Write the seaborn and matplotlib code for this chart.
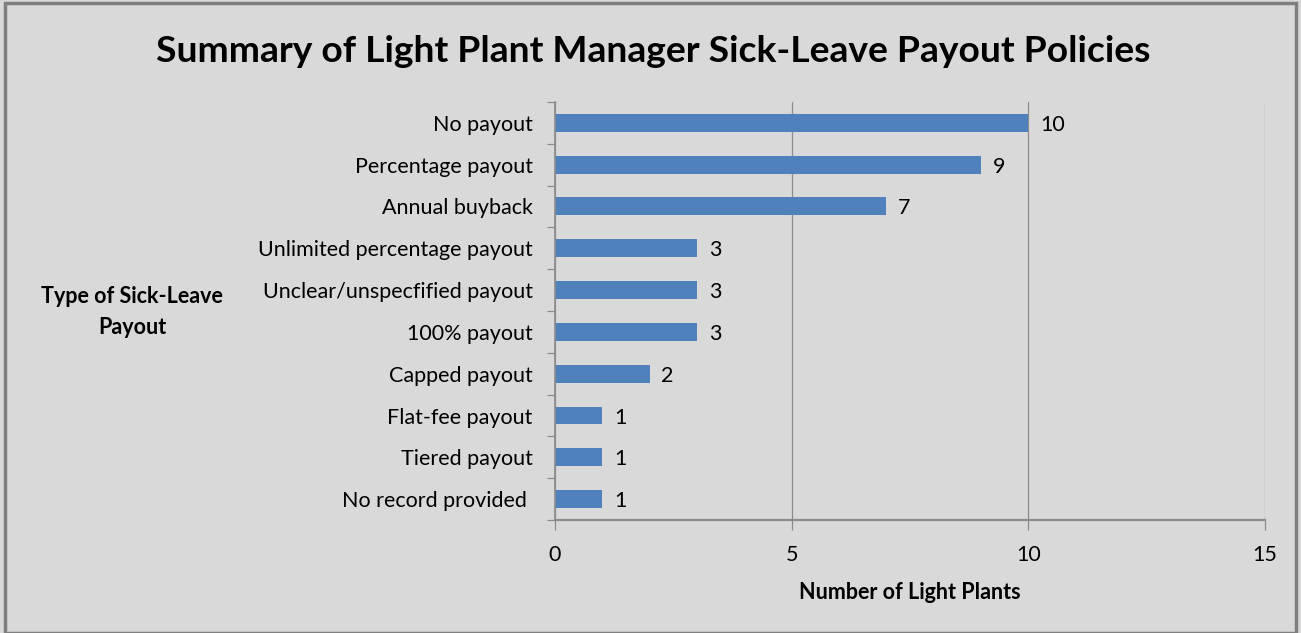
import matplotlib
matplotlib.use("Agg")
import matplotlib.pyplot as plt
import seaborn as sns
import pandas as pd
from matplotlib.patches import Rectangle

categories = ["No payout", "Percentage payout", "Annual buyback", "Unlimited percentage payout",
              "Unclear/unspecfified payout", "100% payout", "Capped payout", "Flat-fee payout",
              "Tiered payout", "No record provided "]
values = [10, 9, 7, 3, 3, 3, 2, 1, 1, 1]
xticks = [0, 5, 10, 15]

df = pd.DataFrame({"cat": categories, "val": values})

sns.set_theme(style="white")
plt.rcParams['font.family'] = ['Lato', 'DejaVu Sans']
plt.rcParams['text.color'] = 'black'
plt.rcParams['xtick.color'] = 'black'
plt.rcParams['ytick.color'] = 'black'

bg = "#D9D9D9"
fig = plt.figure(figsize=(13.01, 6.33), dpi=100, facecolor=bg)
ax = fig.add_axes([0.4266, 0.1785, 0.5457, 0.6604])
ax.set_facecolor(bg)

sns.barplot(data=df, x="val", y="cat", orient="h", color="#4F81BD", width=0.43,
            saturation=1, ax=ax, order=categories, edgecolor="none", linewidth=0)

ax.set_xlim(0, 15)
ax.set_ylim(len(categories) - 0.5, -0.5)
ax.set_xticks(xticks)
ax.set_xticklabels([str(t) for t in xticks], fontsize=15.5)
ax.grid(axis="x", color="#8C8C8C", linewidth=0.9)
ax.set_axisbelow(True)

for s in ["top", "right"]:
    ax.spines[s].set_visible(False)
ax.spines["left"].set_color("#8C8C8C")
ax.spines["bottom"].set_color("#8C8C8C")
ax.spines["bottom"].set_linewidth(1.6)

ax.set_yticks(range(len(categories)))
ax.set_yticklabels(categories, fontsize=15.5)
ax.tick_params(axis="y", length=0, pad=16, colors="black")
ax.set_yticks([i - 0.5 for i in range(len(categories) + 1)], minor=True)
ax.tick_params(axis="y", which="minor", length=6, color="#8C8C8C", width=0.9, left=True)
ax.tick_params(axis="x", length=7, color="#8C8C8C", width=0.9, bottom=True, pad=11,
               labelcolor="black")

for i, v in enumerate(values):
    ax.text(v + 0.25, i, str(v), va="center_baseline", ha="left", fontsize=15.5, color="black")

ax.set_xlabel("Number of Light Plants", fontsize=15.5, fontweight="bold", labelpad=12,
              color="black")
ax.set_ylabel("")
fig.text(132/1301, 1 - 312/633, "Type of Sick-Leave\nPayout", ha="center", va="center",
         fontsize=15.5, fontweight="bold", linespacing=1.55, color="black")

fig.text(653/1301, 1 - 52/633, "Summary of Light Plant Manager Sick-Leave Payout Policies",
         ha="center", va="center", fontsize=26.8, fontweight="bold", color="black")

fig.patches.append(Rectangle((0.004, 0.0), 0.992, 0.995, transform=fig.transFigure,
                             fill=False, edgecolor="#7F7F7F", linewidth=2.5))

fig.savefig("out.png", dpi=100, facecolor=bg)
